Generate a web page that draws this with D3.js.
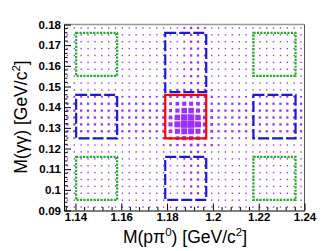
<!DOCTYPE html>
<html><head><meta charset="utf-8">
<script src="https://cdn.jsdelivr.net/npm/d3@7"></script>
<style>body{margin:0;background:#fff}svg{display:block}</style>
</head><body>
<script>
// ---- data ----
const xDomain = [1.135, 1.24];
const yDomain = [0.09, 0.18];
const nBinsX = 35, nBinsY = 27;
const xTickValues = [1.14, 1.16, 1.18, 1.20, 1.22, 1.24];
const xTickLabels = ["1.14", "1.16", "1.18", "1.2", "1.22", "1.24"];
const yTickValues = [0.09, 0.10, 0.11, 0.12, 0.13, 0.14, 0.15, 0.16, 0.17, 0.18];
const yTickLabels = ["0.09", "0.1", "0.11", "0.12", "0.13", "0.14", "0.15", "0.16", "0.17", "0.18"];
// bin contents (relative, hex 0-f), top row first, one character per x bin
const counts = [
  "33333333333333333455433333333333333",
  "33333333333333333455433333333333333",
  "33333333333333333455433333333333333",
  "33333333333333333455433333333333333",
  "33333333333333333455433333333333333",
  "33333333333333333455433333333333333",
  "33333333333333333455433333333333333",
  "33333333333333333455433333333333333",
  "33333333333333333455433333333333333",
  "33333333333333345555543333333333333",
  "44444444444444555666554444444444444",
  "55555555555555568998655555555555555",
  "55555555555555679cc9765555555555555",
  "5555555555555568ceec865555555555555",
  "5555555555555569dffd965555555555555",
  "5555555555555568bddb865555555555555",
  "44444444444444568998654444444444444",
  "33333333333333455566554333333333333",
  "33333333333333333455433333333333333",
  "33333333333333333455433333333333333",
  "33333333333333333455433333333333333",
  "33333333333333333455433333333333333",
  "33333333333333333455433333333333333",
  "33333333333333333455433333333333333",
  "33333333333333333455433333333333333",
  "33333333333333333344333333333333333",
  "33333333333333333344333333333333333"
];
const countMax = 15;
const signalBox = {x: [1.1792, 1.1971], y: [0.1249, 0.1459]};
const blueBoxes = [
  {x: [1.1403, 1.1582], y: [0.1249, 0.1459]},
  {x: [1.2177, 1.2361], y: [0.1249, 0.1459]},
  {x: [1.1792, 1.1971], y: [0.1473, 0.1759]},
  {x: [1.1792, 1.1971], y: [0.0951, 0.1159]}
];
const greenBoxes = [
  {x: [1.1403, 1.1582], y: [0.1551, 0.1759]},
  {x: [1.2177, 1.2361], y: [0.1551, 0.1759]},
  {x: [1.1403, 1.1582], y: [0.0951, 0.1159]},
  {x: [1.2177, 1.2361], y: [0.0951, 0.1159]}
];

// ---- drawing ----
const W = 322, H = 251;
const frame = {l: 64, r: 304.5, t: 24.5, b: 210.5};
const svg = d3.select("body").append("svg").attr("width", W).attr("height", H);
const x = d3.scaleLinear().domain(xDomain).range([frame.l, frame.r]);
const y = d3.scaleLinear().domain(yDomain).range([frame.b, frame.t]);
const bwX = (xDomain[1] - xDomain[0]) / nBinsX;
const bwY = (yDomain[1] - yDomain[0]) / nBinsY;
const size = d3.scaleLinear().domain([0, countMax]).range([0, 1]);
const cellW = x(xDomain[0] + bwX) - x(xDomain[0]);
const cellH = y(yDomain[0]) - y(yDomain[0] + bwY);

const cells = [];
counts.forEach((row, r) => {
  const iy = nBinsY - 1 - r;
  row.split("").forEach((ch, ix) => {
    const v = parseInt(ch, 16);
    if (v > 0) cells.push({ix, iy, v});
  });
});
svg.append("g").selectAll("rect").data(cells).join("rect")
  .attr("x", d => x(xDomain[0] + (d.ix + 0.5) * bwX) - cellW * size(d.v) / 2)
  .attr("y", d => y(yDomain[0] + (d.iy + 0.5) * bwY) - cellH * size(d.v) / 2)
  .attr("width", d => cellW * size(d.v))
  .attr("height", d => cellH * size(d.v))
  .attr("fill", "#9b30ff");

function drawBox(b, color, dash, width) {
  svg.append("rect")
    .attr("x", x(b.x[0])).attr("y", y(b.y[1]))
    .attr("width", x(b.x[1]) - x(b.x[0])).attr("height", y(b.y[0]) - y(b.y[1]))
    .attr("fill", "none").attr("stroke", color).attr("stroke-width", width)
    .attr("stroke-dasharray", dash);
}
greenBoxes.forEach(b => drawBox(b, "#22b022", "2.2,1.2", 2.2));
blueBoxes.forEach(b => drawBox(b, "#1a1ad6", "11,3", 2.2));
drawBox(signalBox, "#ff0000", null, 2.2);

// frame
svg.append("line").attr("x1", frame.l).attr("x2", frame.r).attr("y1", frame.t).attr("y2", frame.t).attr("stroke", "#999").attr("stroke-width", 1.5);
svg.append("line").attr("x1", frame.r).attr("x2", frame.r).attr("y1", frame.t).attr("y2", frame.b).attr("stroke", "#555").attr("stroke-width", 1);

// axes
const xAxis = svg.append("g").attr("transform", `translate(0,${frame.b})`);
xAxis.call(d3.axisBottom(x).tickValues(xTickValues).tickFormat((d, i) => xTickLabels[i]).tickSizeInner(-7).tickSizeOuter(0).tickPadding(2));
const xMinor = d3.range(1.136, 1.2401, 0.004).filter(v => !xTickValues.some(t => Math.abs(t - v) < 1e-6));
xAxis.selectAll(".minor").data(xMinor).join("line").attr("class", "minor")
  .attr("x1", d => x(d)).attr("x2", d => x(d)).attr("y1", 0).attr("y2", -3.5).attr("stroke", "#000");
const yAxis = svg.append("g").attr("transform", `translate(${frame.l},0)`);
yAxis.call(d3.axisLeft(y).tickValues(yTickValues).tickFormat((d, i) => yTickLabels[i]).tickSizeInner(-7).tickSizeOuter(0).tickPadding(3));
const yMinor = d3.range(0.092, 0.18, 0.002).filter(v => !yTickValues.some(t => Math.abs(t - v) < 1e-6));
yAxis.selectAll(".minor").data(yMinor).join("line").attr("class", "minor")
  .attr("y1", d => y(d)).attr("y2", d => y(d)).attr("x1", 0).attr("x2", 3.5).attr("stroke", "#000");
[xAxis, yAxis].forEach(a => {
  a.select(".domain").attr("stroke", "#000");
  a.selectAll(".tick text").attr("font-family", "Liberation Sans, Arial, sans-serif")
    .attr("font-size", 11.5).attr("font-weight", "bold").attr("fill", "#000");
});
xAxis.selectAll(".tick text").attr("y", 2).attr("dy", "0.71em");

// titles
const xt = svg.append("text").attr("x", 185).attr("y", 243).attr("text-anchor", "middle")
  .attr("font-family", "Liberation Sans, Arial, sans-serif").attr("font-size", 17.5);
xt.append("tspan").text("M(p\u03C0");
xt.append("tspan").attr("font-size", 11.5).attr("dy", -7).text("0");
xt.append("tspan").attr("dy", 7).text(") [GeV/c");
xt.append("tspan").attr("font-size", 11.5).attr("dy", -7).text("2");
xt.append("tspan").attr("dy", 7).text("]");
const yt = svg.append("text").attr("transform", "translate(27,117) rotate(-90)").attr("text-anchor", "middle")
  .attr("font-family", "Liberation Sans, Arial, sans-serif").attr("font-size", 17.5);
yt.append("tspan").text("M(\u03B3\u03B3) [GeV/c");
yt.append("tspan").attr("font-size", 11.5).attr("dy", -7).text("2");
yt.append("tspan").attr("dy", 7).text("]");
</script>
</body></html>
